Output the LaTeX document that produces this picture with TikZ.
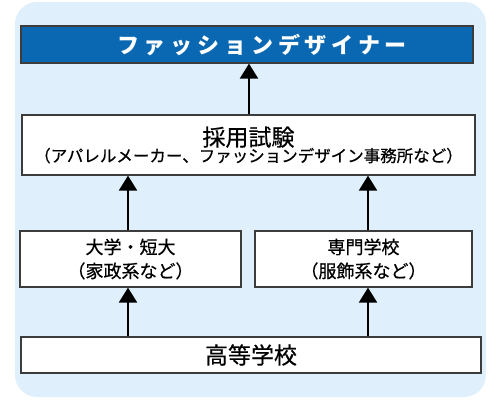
\documentclass[tikz,border=0pt]{standalone}
\usepackage{fontspec}
\setmainfont{Noto Sans CJK JP}[FakeBold=0.6]
\newfontfamily\titlefont[LetterSpace=22]{Noto Sans CJK JP}
\usetikzlibrary{arrows.meta}

\definecolor{bgblue}{RGB}{223,239,252}
\definecolor{titleblue}{RGB}{10,104,178}
\definecolor{boxline}{RGB}{60,60,60}

\tikzset{
	stagebox/.style={draw=boxline, line width=1.2pt, fill=white, inner sep=0pt, align=center},
	uparrow/.style={line width=2.2pt, -{Triangle[width=18pt,length=15pt]}}
}

\begin{document}
\begin{tikzpicture}[x=1pt, y=-1pt]

		\useasboundingbox (0,0) rectangle (500,400);
		\fill[bgblue, rounded corners=22pt] (15,2) rectangle (486,397);

		\node[stagebox, fill=titleblue, minimum width=452pt, minimum height=37pt] (designer) at (247,44.5) {};
		\node[text=white, font=\titlefont\bfseries\fontsize{22}{26}\selectfont] (designerlabel) at (262,45) {ファッションデザイナー};

		\node[stagebox, minimum width=453pt, minimum height=60pt] (exam) at (248.5,145)
			{{\fontsize{23}{26}\selectfont 採用試験}\\[-1pt]{\fontsize{16.5}{20}\selectfont （アパレルメーカー、ファッションデザイン事務所など）}};

		\node[stagebox, minimum width=221pt, minimum height=56pt, font=\fontsize{18}{24}\selectfont] (univ) at (130.5,259) {大学・短大\\（家政系など）};
		\node[stagebox, minimum width=217pt, minimum height=56pt, font=\fontsize{18}{24}\selectfont] (senmon) at (363.5,259) {専門学校\\（服飾系など）};

		\node[stagebox, minimum width=460pt, minimum height=36pt, font=\fontsize{23}{26}\selectfont] (high) at (251,355) {高等学校};

		\coordinate (leftcol) at (128,0);
		\coordinate (rightcol) at (368,0);
		\coordinate (midcol) at (249,0);

		\draw[uparrow] (exam.north -| midcol) -- (designer.south -| midcol);
		\draw[uparrow] (univ.north -| leftcol) -- (exam.south -| leftcol);
		\draw[uparrow] (senmon.north -| rightcol) -- (exam.south -| rightcol);
		\draw[uparrow] (high.north -| leftcol) -- (univ.south -| leftcol);
		\draw[uparrow] (high.north -| rightcol) -- (senmon.south -| rightcol);

	\end{tikzpicture}
\end{document}
